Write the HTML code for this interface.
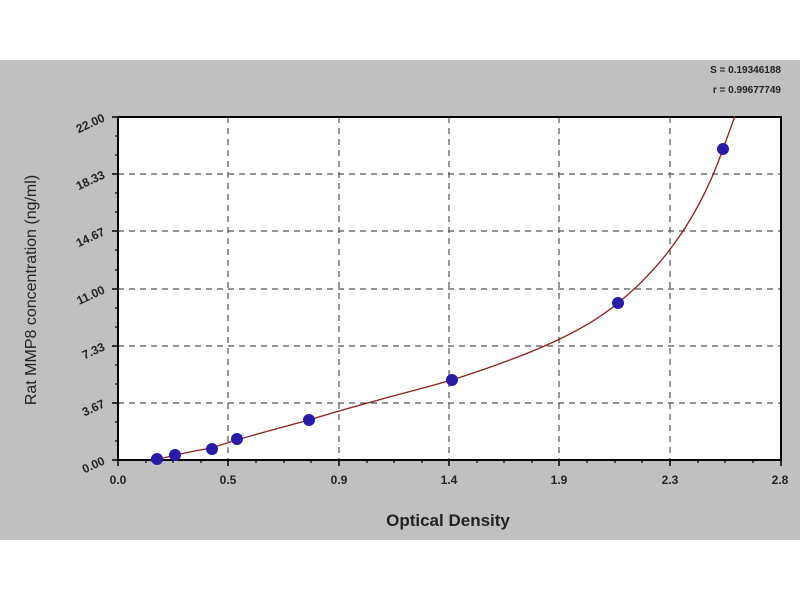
<!DOCTYPE html>
<html><head><meta charset="utf-8"><style>body{margin:0;background:#fff}svg{display:block}</style></head><body>
<svg width="800" height="600" xmlns="http://www.w3.org/2000/svg" font-family="Liberation Sans, sans-serif">
<rect x="0" y="0" width="800" height="600" fill="#fff"/>
<rect x="0" y="60" width="800" height="480" fill="#c0c0c0"/>
<rect x="118" y="117" width="663" height="343" fill="#fff"/>
<g stroke="#555" stroke-width="1.2" stroke-dasharray="6,5">
<line x1="228" y1="117" x2="228" y2="460"/><line x1="339" y1="117" x2="339" y2="460"/>
<line x1="449" y1="117" x2="449" y2="460"/><line x1="559" y1="117" x2="559" y2="460"/>
<line x1="670" y1="117" x2="670" y2="460"/>
<line x1="118" y1="174" x2="781" y2="174"/><line x1="118" y1="231" x2="781" y2="231"/>
<line x1="118" y1="289" x2="781" y2="289"/><line x1="118" y1="346" x2="781" y2="346"/>
<line x1="118" y1="403" x2="781" y2="403"/>
</g>
<rect x="118" y="117" width="663" height="343" fill="none" stroke="#000" stroke-width="2"/>
<g stroke="#000" stroke-width="1.5">
<line x1="118" y1="460" x2="118" y2="466"/><line x1="228" y1="460" x2="228" y2="466"/><line x1="339" y1="460" x2="339" y2="466"/><line x1="449" y1="460" x2="449" y2="466"/><line x1="559" y1="460" x2="559" y2="466"/><line x1="670" y1="460" x2="670" y2="466"/><line x1="781" y1="460" x2="781" y2="466"/>
<line x1="112" y1="117" x2="118" y2="117"/><line x1="112" y1="174" x2="118" y2="174"/><line x1="112" y1="231" x2="118" y2="231"/><line x1="112" y1="289" x2="118" y2="289"/><line x1="112" y1="346" x2="118" y2="346"/><line x1="112" y1="403" x2="118" y2="403"/><line x1="112" y1="460" x2="118" y2="460"/>
</g>
<g stroke="#000" stroke-width="1.2">
<line x1="146" y1="460" x2="146" y2="463"/><line x1="173" y1="460" x2="173" y2="463"/><line x1="201" y1="460" x2="201" y2="463"/>
<line x1="256" y1="460" x2="256" y2="463"/><line x1="284" y1="460" x2="284" y2="463"/><line x1="311" y1="460" x2="311" y2="463"/>
<line x1="367" y1="460" x2="367" y2="463"/><line x1="394" y1="460" x2="394" y2="463"/><line x1="422" y1="460" x2="422" y2="463"/>
<line x1="477" y1="460" x2="477" y2="463"/><line x1="504" y1="460" x2="504" y2="463"/><line x1="532" y1="460" x2="532" y2="463"/>
<line x1="587" y1="460" x2="587" y2="463"/><line x1="615" y1="460" x2="615" y2="463"/><line x1="642" y1="460" x2="642" y2="463"/>
<line x1="698" y1="460" x2="698" y2="463"/><line x1="725" y1="460" x2="725" y2="463"/><line x1="753" y1="460" x2="753" y2="463"/>
<line x1="115" y1="136" x2="118" y2="136"/><line x1="115" y1="155" x2="118" y2="155"/><line x1="115" y1="193" x2="118" y2="193"/><line x1="115" y1="212" x2="118" y2="212"/><line x1="115" y1="250" x2="118" y2="250"/><line x1="115" y1="270" x2="118" y2="270"/><line x1="115" y1="308" x2="118" y2="308"/><line x1="115" y1="327" x2="118" y2="327"/><line x1="115" y1="365" x2="118" y2="365"/><line x1="115" y1="384" x2="118" y2="384"/><line x1="115" y1="422" x2="118" y2="422"/><line x1="115" y1="441" x2="118" y2="441"/>
</g>
<path d="M150,461 C165,458 185,452 212,448 C240,438 280,428 309,420 C360,404 410,392 452,380 C520,358 580,335 618,303 C665,265 700,215 723,149 L735,116" fill="none" stroke="#8b2020" stroke-width="1.3"/>
<g fill="#2a1aa8">
<circle cx="157" cy="459" r="6"/><circle cx="175" cy="455" r="6"/><circle cx="212" cy="449" r="6"/><circle cx="237" cy="439" r="6"/><circle cx="309" cy="420" r="6"/><circle cx="452" cy="380" r="6"/><circle cx="618" cy="303" r="6"/><circle cx="723" cy="149" r="6"/>
</g>
<g font-size="12" font-weight="bold" fill="#222" text-anchor="middle">
<text x="118" y="484">0.0</text><text x="228" y="484">0.5</text><text x="339" y="484">0.9</text><text x="449" y="484">1.4</text><text x="559" y="484">1.9</text><text x="670" y="484">2.3</text><text x="780" y="484">2.8</text>
</g>
<g font-size="12" font-weight="bold" fill="#222" text-anchor="end">
<text x="104" y="121" transform="rotate(-25 104 117)">22.00</text>
<text x="104" y="178" transform="rotate(-25 104 174)">18.33</text>
<text x="104" y="235" transform="rotate(-25 104 231)">14.67</text>
<text x="104" y="293" transform="rotate(-25 104 289)">11.00</text>
<text x="104" y="350" transform="rotate(-25 104 346)">7.33</text>
<text x="104" y="407" transform="rotate(-25 104 403)">3.67</text>
<text x="104" y="464" transform="rotate(-25 104 460)">0.00</text>
</g>
<text x="448" y="526" font-size="17" font-weight="bold" fill="#222" text-anchor="middle">Optical Density</text>
<text transform="translate(36 290) rotate(-90)" font-size="16" fill="#222" text-anchor="middle">Rat MMP8 concentration (ng/ml)</text>
<g font-size="10" font-weight="bold" fill="#222" text-anchor="end"><text x="781" y="73">S = 0.19346188</text><text x="781" y="93">r = 0.99677749</text></g>
</svg>
</body></html>
